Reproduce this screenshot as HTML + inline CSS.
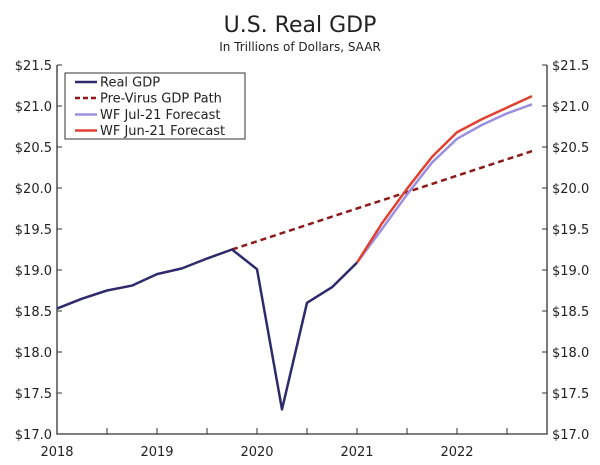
<!DOCTYPE html>
<html><head><meta charset="utf-8"><style>
body{margin:0;background:#fff;font-family:"DejaVu Sans","Liberation Sans",sans-serif;}
svg text{font-family:"DejaVu Sans","Liberation Sans",sans-serif;fill:#222;}
</style></head><body>
<svg id="chart" width="600" height="461">
<text x="300" y="32" text-anchor="middle" font-size="22">U.S. Real GDP</text>
<text x="300" y="51" text-anchor="middle" font-size="12">In Trillions of Dollars, SAAR</text>
<g id="axes"></g>
<g id="series"></g>
<g>
<rect x="65" y="73" width="180" height="66" fill="#fff" stroke="#333" stroke-width="1"/>
<line x1="75" y1="82" x2="97" y2="82" stroke="#2e2a6b" stroke-width="2.5"/>
<text x="100" y="86.5" font-size="13">Real GDP</text>
<line x1="75" y1="98" x2="97" y2="98" stroke="#8b1a1a" stroke-width="2.5" stroke-dasharray="5,3"/>
<text x="100" y="102.5" font-size="13">Pre-Virus GDP Path</text>
<line x1="75" y1="114.5" x2="97" y2="114.5" stroke="#9b8fe0" stroke-width="2.5"/>
<text x="100" y="119" font-size="13">WF Jul-21 Forecast</text>
<line x1="75" y1="130.5" x2="97" y2="130.5" stroke="#e04030" stroke-width="2.5"/>
<text x="100" y="135" font-size="13">WF Jun-21 Forecast</text>
</g>
</svg>
<script>
const realGDP=[18.53,18.65,18.75,18.81,18.95,19.02,19.14,19.25,19.01,17.30,18.60,18.79,19.09];
const preVirus=[19.25,19.35,19.45,19.55,19.65,19.75,19.85,19.95,20.05,20.15,20.25,20.35,20.45];
const julForecast=[19.09,19.50,19.92,20.31,20.60,20.77,20.91,21.02];
const junForecast=[19.09,19.57,19.99,20.38,20.68,20.84,20.98,21.12];
const yTicks=[17.0,17.5,18.0,18.5,19.0,19.5,20.0,20.5,21.0,21.5];
const xYears=[2018,2019,2020,2021,2022];
const NS="http://www.w3.org/2000/svg";
const L=57,R=547,T=65,B=434;
const xq=i=>57+25*i; // quarter index from 2018Q1
const y=v=>B-(v-17)/(4.5)*(B-T);
function mk(tag,a,p){const e=document.createElementNS(NS,tag);for(const k in a)e.setAttribute(k,a[k]);p.appendChild(e);return e;}
const ax=document.getElementById('axes'),se=document.getElementById('series');
const frame=mk('path',{d:`M${L},${T}V${B}H${R}V${T}`,fill:'none',stroke:'#333','stroke-width':1.3},ax);


yTicks.forEach(v=>{
 mk('line',{x1:L,x2:L+5,y1:y(v),y2:y(v),stroke:'#333'},ax);
 mk('line',{x1:R-5,x2:R,y1:y(v),y2:y(v),stroke:'#333'},ax);
 const t1=mk('text',{x:L-5,y:y(v)+5,'text-anchor':'end','font-size':13},ax);t1.textContent='$'+v.toFixed(1);
 
 
 const t2=mk('text',{x:R+5,y:y(v)+5,'font-size':13},ax);t2.textContent='$'+v.toFixed(1);
 
 
});
for(let i=0;i<10;i++){const x=L+50*i;mk('line',{x1:x,x2:x,y1:B-6,y2:B,stroke:'#333'},ax);}
xYears.forEach((yr,i)=>{const t=mk('text',{x:L+100*i,y:B+22,'text-anchor':'middle','font-size':13},ax);t.textContent=yr;
 
 });
function line(arr,start,color,dash,name){
 const d=arr.map((v,i)=>(i?'L':'M')+xq(start+i)+','+y(v)).join('');
 const p=mk('path',{d,fill:'none',stroke:color,'stroke-width':2.5,'stroke-linejoin':'round'},se);
 if(dash)p.setAttribute('stroke-dasharray',dash);
 
 
}
line(preVirus,7,'#8b1a1a','6,4','pre-virus-line');
line(julForecast,12,'#9b8fe0',null,'jul-forecast-line');
line(junForecast,12,'#e04030',null,'jun-forecast-line');
line(realGDP,0,'#2e2a6b',null,'real-gdp-line');
</script>
</body></html>
